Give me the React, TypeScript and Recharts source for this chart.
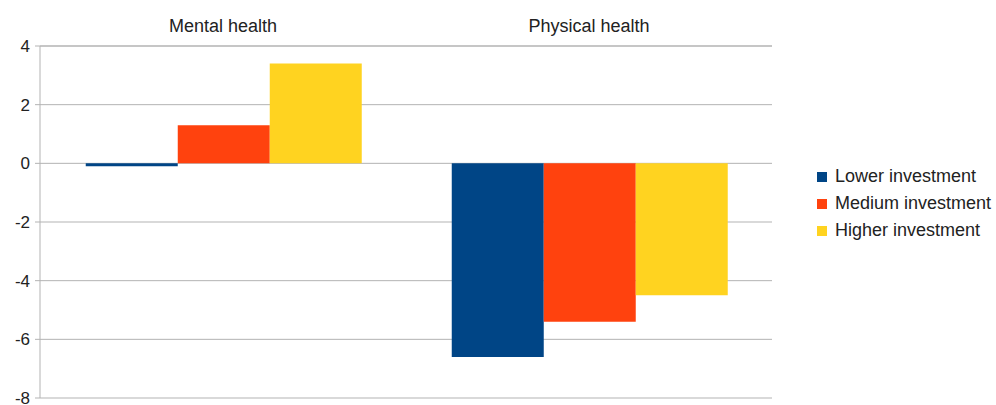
import { BarChart, Bar, XAxis, YAxis, CartesianGrid } from "recharts"

const categories = ["Mental health", "Physical health"]
const lowerValues = [-0.1, -6.6]
const mediumValues = [1.3, -5.4]
const higherValues = [3.4, -4.5]
const yTicks = [4, 2, 0, -2, -4, -6, -8]

const seriesKeys = ["lower", "medium", "higher"]
const seriesNames = ["Lower investment", "Medium investment", "Higher investment"]
const seriesColors = ["#004586", "#ff420e", "#ffd320"]

const data = categories.map((name, i) => ({
 name,
 lower: lowerValues[i],
 medium: mediumValues[i],
 higher: higherValues[i]
}))

const font = "'Liberation Sans', Arial, sans-serif"

export default function App() {
 return (
  <div style={{ position: "absolute", left: 0, top: 0, width: 996, height: 405, background: "#fff" }}>
   <BarChart
    width={996}
    height={405}
    data={data}
    margin={{ top: 16, right: 224, bottom: 7, left: 0 }}
    barGap={0}
    barCategoryGap="12.5%"
   >
    <CartesianGrid vertical={false} stroke="#b3b3b3" />
    <XAxis
     dataKey="name"
     orientation="top"
     height={30}
     tickLine={false}
     tickSize={6}
     tickMargin={8}
     fontSize={18}
     axisLine={{ stroke: "#b3b3b3" }}
     tick={{ fill: "#222", fontSize: 18, fontFamily: font }}
    />
    <YAxis
     domain={[-8, 4]}
     ticks={yTicks}
     width={40}
     tickSize={5}
     tickMargin={5}
     interval={0}
     fontSize={17}
     axisLine={{ stroke: "#b3b3b3" }}
     tickLine={{ stroke: "#b3b3b3" }}
     tick={{ fill: "#222", fontSize: 17, fontFamily: font }}
    />
    <YAxis
     yAxisId="r"
     orientation="right"
     domain={[-8, 4]}
     width={0}
     tick={false}
     tickLine={false}
     axisLine={{ stroke: "#b3b3b3" }}
    />
    {seriesKeys.map((k, i) => (
     <Bar key={k} dataKey={k} name={seriesNames[i]} fill={seriesColors[i]} isAnimationActive={false} />
    ))}
   </BarChart>

   {/* LEGEND */}
   <div style={{ position: "absolute", left: 817, top: 163, fontFamily: font, fontSize: 18, color: "#222" }}>
    {seriesNames.map((n, i) => (
     <div key={n} style={{ display: "flex", alignItems: "center", height: 27 }}>
      <span style={{ width: 10, height: 10, background: seriesColors[i], marginRight: 8, display: "inline-block" }} />
      <span>{n}</span>
     </div>
    ))}
   </div>
  </div>
 )
}
